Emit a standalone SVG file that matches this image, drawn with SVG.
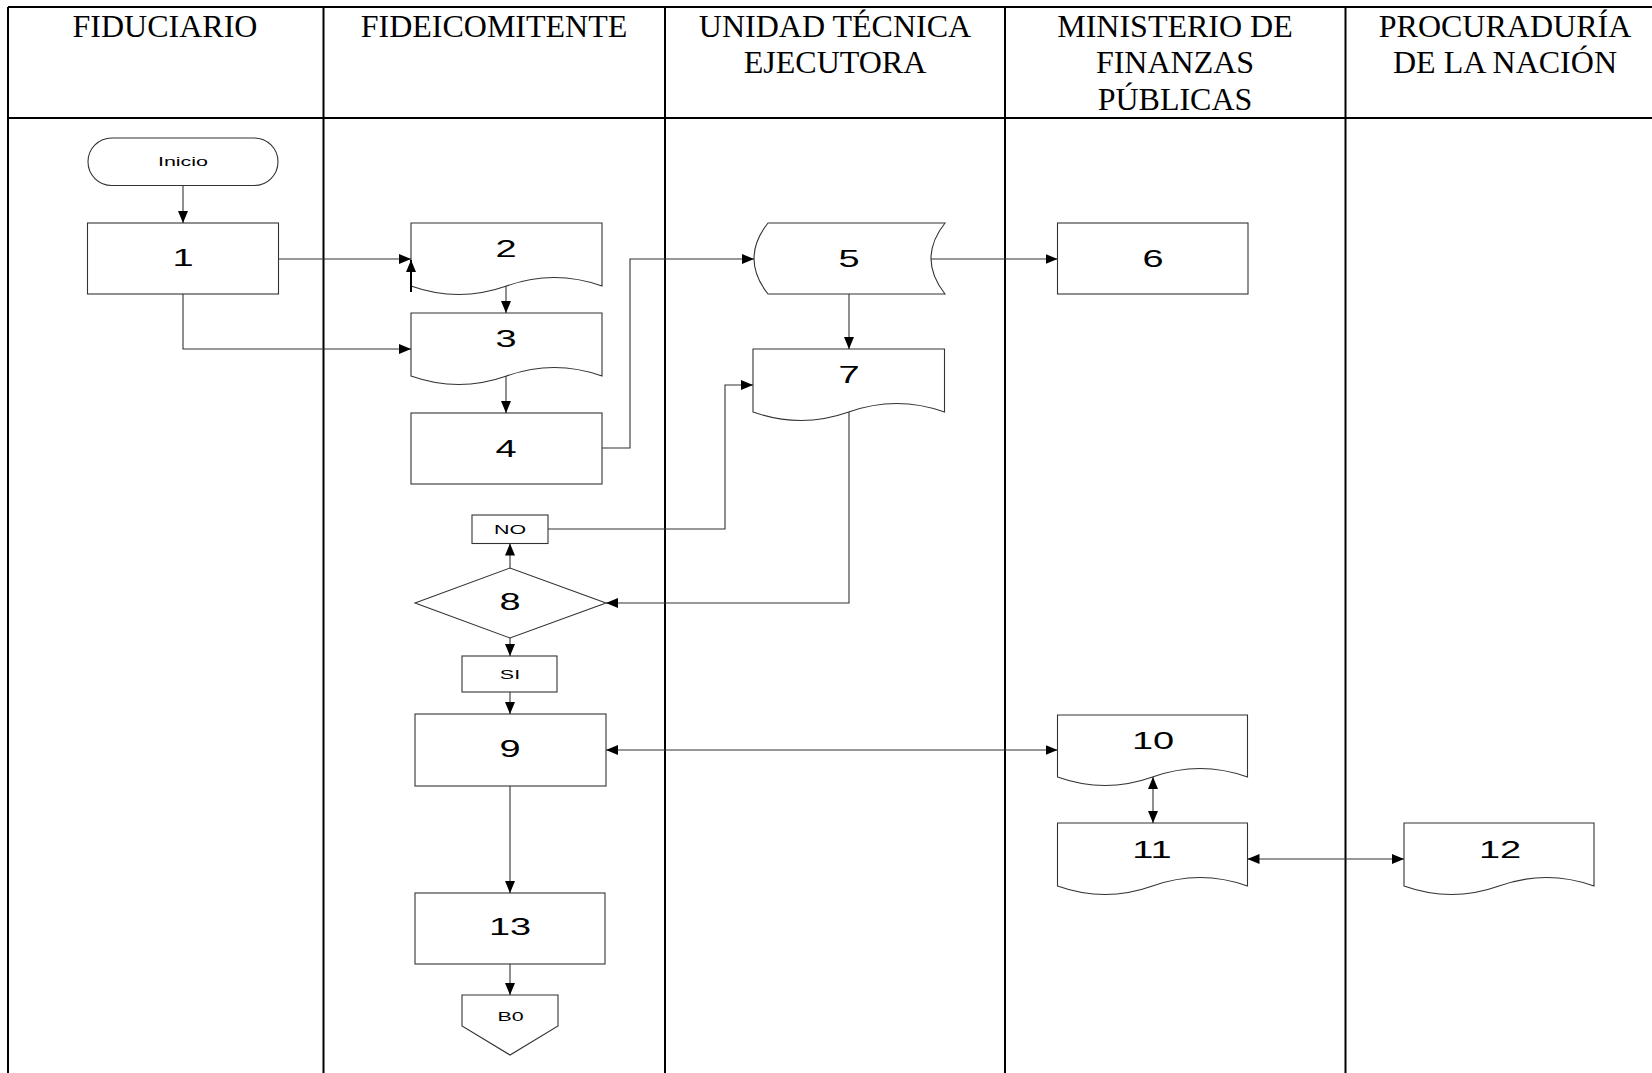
<svg xmlns="http://www.w3.org/2000/svg" width="1652" height="1073" viewBox="0 0 1652 1073">
<defs>
<style>
.lane{stroke:#000;stroke-width:2;fill:none}
.hd{font-family:"Liberation Serif","Times New Roman",serif;font-size:32px;fill:#000;text-anchor:middle}
.sh{fill:#fff;stroke:#333;stroke-width:1.1}
.n{font-family:"Liberation Sans",Arial,sans-serif;font-size:23px;fill:#000;text-anchor:middle}
.s{font-family:"Liberation Sans",Arial,sans-serif;font-size:13px;fill:#000;text-anchor:middle}
.ca{fill:none;stroke:#333;stroke-width:1.1;marker-end:url(#ah)}
.cb{fill:none;stroke:#333;stroke-width:1.1;marker-start:url(#ah);marker-end:url(#ah)}
</style>
<marker id="ah" viewBox="0 0 12 10" refX="12" refY="5" markerWidth="12" markerHeight="10" markerUnits="userSpaceOnUse" orient="auto-start-reverse">
<path d="M0,0 L12,5 L0,10 z" fill="#000"/>
</marker>
</defs>
<rect width="1652" height="1073" fill="#fff"/>
<g id="table">
<line class="lane" x1="8" y1="7" x2="1652" y2="7"/>
<line class="lane" x1="8" y1="118" x2="1652" y2="118"/>
<line class="lane" x1="8" y1="7" x2="8" y2="1073"/>
<line class="lane" x1="323.5" y1="7" x2="323.5" y2="1073"/>
<line class="lane" x1="665" y1="7" x2="665" y2="1073"/>
<line class="lane" x1="1005" y1="7" x2="1005" y2="1073"/>
<line class="lane" x1="1345.5" y1="7" x2="1345.5" y2="1073"/>
<text class="hd" x="165" y="36.5">FIDUCIARIO</text>
<text class="hd" x="494" y="36.5">FIDEICOMITENTE</text>
<text class="hd" x="835" y="36.5">UNIDAD TÉCNICA</text>
<text class="hd" x="835" y="73.4">EJECUTORA</text>
<text class="hd" x="1175" y="36.5">MINISTERIO DE</text>
<text class="hd" x="1175" y="73.4">FINANZAS</text>
<text class="hd" x="1175" y="110.3">PÚBLICAS</text>
<text class="hd" x="1505" y="36.5">PROCURADURÍA</text>
<text class="hd" x="1505" y="73.4">DE LA NACIÓN</text>
</g>
<g id="inicio">
<rect class="sh" x="88" y="138" width="190" height="47.5" rx="23.75"/>
<text class="s" transform="translate(183,165.7) scale(1.65,1)">Inicio</text>
</g>
<g id="n1">
<rect class="sh" x="87.5" y="223" width="191" height="71"/>
<text class="n" transform="translate(183,265.7) scale(1.65,1)">1</text>
</g>
<g id="n2">
<path class="sh" d="M411,223 H602 V286 Q554.25,269 506.5,286 Q458.75,303 411,286 Z"/>
<text class="n" transform="translate(506,256.7) scale(1.65,1)">2</text>
</g>
<g id="n3">
<path class="sh" d="M411,313 H602 V376 Q554.25,359 506.5,376 Q458.75,393 411,376 Z"/>
<text class="n" transform="translate(506,346.7) scale(1.65,1)">3</text>
</g>
<g id="n4">
<rect class="sh" x="411" y="413" width="191" height="71"/>
<text class="n" transform="translate(506,456.7) scale(1.65,1)">4</text>
</g>
<g id="n5">
<path class="sh" d="M768,223 H945 Q917,258.5 945,294 H768 Q740,258.5 768,223 Z"/>
<text class="n" transform="translate(849,266.7) scale(1.65,1)">5</text>
</g>
<g id="n6">
<rect class="sh" x="1057.5" y="223" width="190.5" height="71"/>
<text class="n" transform="translate(1153,266.7) scale(1.65,1)">6</text>
</g>
<g id="n7">
<path class="sh" d="M753,349 H944.5 V412 Q896.6,395 848.75,412 Q800.9,429 753,412 Z"/>
<text class="n" transform="translate(849,383.3) scale(1.65,1)">7</text>
</g>
<g id="no">
<rect class="sh" x="472" y="515" width="76" height="28.5"/>
<text class="s" transform="translate(510,534.3) scale(1.65,1)">NO</text>
</g>
<g id="n8">
<path class="sh" d="M415,603 L510,568 L606,603 L510,638 Z"/>
<text class="n" transform="translate(510,610) scale(1.65,1)">8</text>
</g>
<g id="si">
<rect class="sh" x="462" y="656" width="95" height="36"/>
<text class="s" transform="translate(510,678.7) scale(1.65,1)">SI</text>
</g>
<g id="n9">
<rect class="sh" x="415" y="714" width="191" height="72"/>
<text class="n" transform="translate(510,757.3) scale(1.65,1)">9</text>
</g>
<g id="n10">
<path class="sh" d="M1057.5,715 H1247.5 V777 Q1200,760 1152.5,777 Q1105,794 1057.5,777 Z"/>
<text class="n" transform="translate(1153,749) scale(1.65,1)">10</text>
</g>
<g id="n11">
<path class="sh" d="M1057.5,823 H1247.5 V886 Q1200,869 1152.5,886 Q1105,903 1057.5,886 Z"/>
<text class="n" transform="translate(1152,857.7) scale(1.65,1)">11</text>
</g>
<g id="n12">
<path class="sh" d="M1404,823 H1594 V886 Q1546.5,869 1499,886 Q1451.5,903 1404,886 Z"/>
<text class="n" transform="translate(1500,857.7) scale(1.65,1)">12</text>
</g>
<g id="n13">
<rect class="sh" x="415" y="893" width="190" height="71"/>
<text class="n" transform="translate(510,935.3) scale(1.65,1)">13</text>
</g>
<g id="b0">
<path class="sh" d="M462,995 H558 V1026 L510,1055 L462,1026 Z"/>
<text class="s" transform="translate(510.5,1020.7) scale(1.65,1)">B0</text>
</g>
<g id="connectors">
<path class="ca" d="M183,185.5 V223"/>
<path class="ca" d="M278.5,259 H411"/>
<path d="M411,292 V260" fill="none" stroke="#000" stroke-width="2" marker-end="url(#ah)"/>
<path class="ca" d="M506,286 V313"/>
<path class="ca" d="M183,294 V349 H411"/>
<path class="ca" d="M506,376 V413"/>
<path class="ca" d="M602,448 H630 V259 H754"/>
<path class="ca" d="M931,259 H1057.5"/>
<path class="ca" d="M849,294 V349"/>
<path class="ca" d="M849,412 V603 H606"/>
<path class="ca" d="M510,568 V543.5"/>
<path class="ca" d="M548,529 H725 V385 H753"/>
<path class="ca" d="M510,638 V656"/>
<path class="ca" d="M510,692 V714"/>
<path class="cb" d="M606,750 H1057.5"/>
<path class="cb" d="M1153,777 V823"/>
<path class="cb" d="M1247.5,859 H1404"/>
<path class="ca" d="M510,786 V893"/>
<path class="ca" d="M510,964 V995"/>
</g>
</svg>
